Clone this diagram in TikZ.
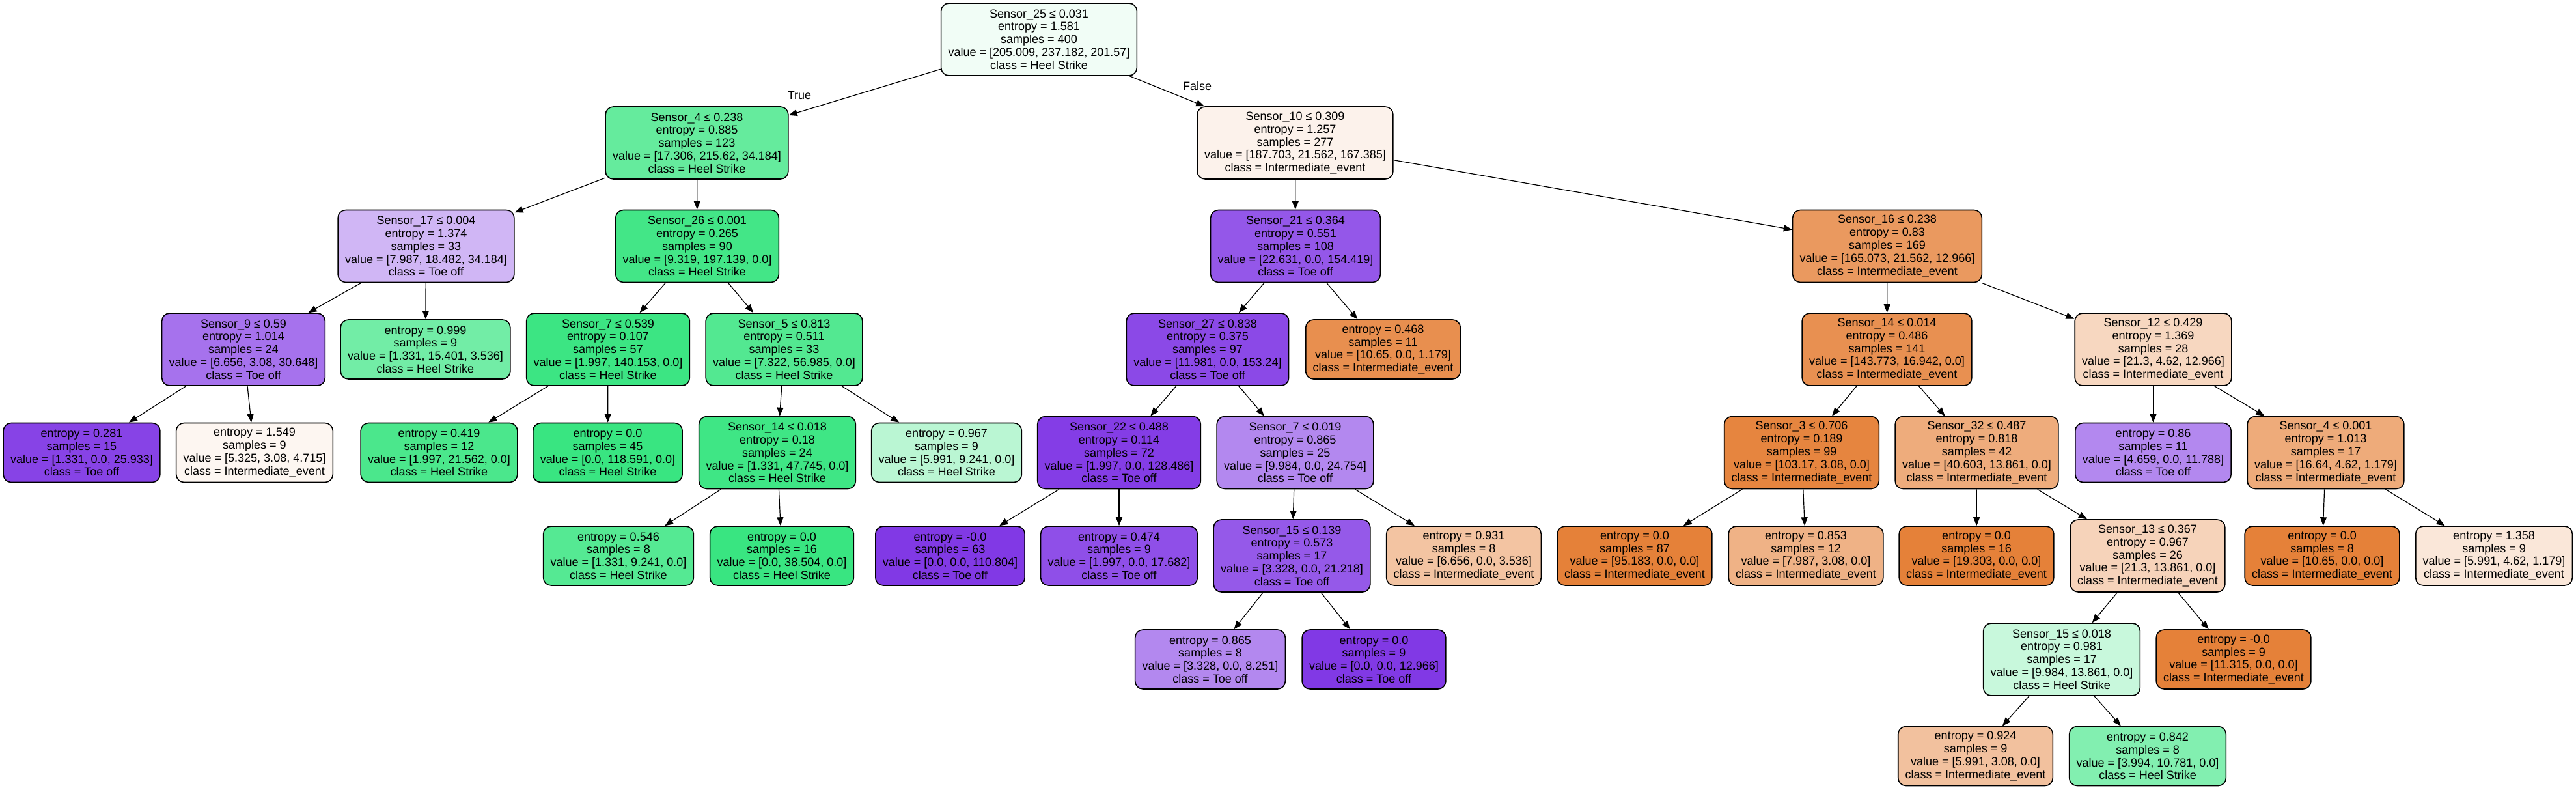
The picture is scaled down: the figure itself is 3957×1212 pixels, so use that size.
\documentclass[tikz,border=0pt]{standalone}
\usepackage{fontspec}
\setmainfont{Liberation Sans}
\usetikzlibrary{arrows.meta}
\definecolor{cIE}{RGB}{229,129,57}
\definecolor{cHS}{RGB}{57,229,129}
\definecolor{cTO}{RGB}{129,57,229}
\tikzset{
  tn/.style={draw=black, line width=0.8pt, rounded corners=6pt, align=center,
    font=\fontsize{9}{9.9}\selectfont, inner xsep=5.5pt, inner ysep=0pt},
  dn/.style={tn, minimum height=55.5pt},
  lf/.style={tn, minimum height=45.5pt},
  conn/.style={-{Triangle[length=6.5pt,width=5pt]}, line width=0.6pt},
  lbl/.style={font=\fontsize{9}{9.9}\selectfont, inner sep=0pt},
}
\begin{document}
\begin{tikzpicture}[x=0.5pt,y=-0.5pt]
\useasboundingbox[fill=white] (0,0) rectangle (3957,1212);
% level 0
\node[dn, fill=cHS!7!white] (root) at (1596,60.5) {Sensor\_25 ≤ 0.031\\entropy = 1.581\\samples = 400\\value = [205.009, 237.182, 201.57]\\class = Heel Strike};
% level 1
\node[dn, fill=cHS!78!white] (s4a) at (1070.5,219.5) {Sensor\_4 ≤ 0.238\\entropy = 0.885\\samples = 123\\value = [17.306, 215.62, 34.184]\\class = Heel Strike};
\node[dn, fill=cIE!10!white] (s10) at (1989.5,219.5) {Sensor\_10 ≤ 0.309\\entropy = 1.257\\samples = 277\\value = [187.703, 21.562, 167.385]\\class = Intermediate\_event};
% level 2
\node[dn, fill=cTO!37!white] (s17) at (654.5,378) {Sensor\_17 ≤ 0.004\\entropy = 1.374\\samples = 33\\value = [7.987, 18.482, 34.184]\\class = Toe off};
\node[dn, fill=cHS!95!white] (s26) at (1071,378) {Sensor\_26 ≤ 0.001\\entropy = 0.265\\samples = 90\\value = [9.319, 197.139, 0.0]\\class = Heel Strike};
\node[dn, fill=cTO!85!white] (s21) at (1990,378) {Sensor\_21 ≤ 0.364\\entropy = 0.551\\samples = 108\\value = [22.631, 0.0, 154.419]\\class = Toe off};
\node[dn, fill=cIE!81!white] (s16) at (2899,378) {Sensor\_16 ≤ 0.238\\entropy = 0.83\\samples = 169\\value = [165.073, 21.562, 12.966]\\class = Intermediate\_event};
% level 3
\node[dn, fill=cTO!71!white] (s9) at (374,536.5) {Sensor\_9 ≤ 0.59\\entropy = 1.014\\samples = 24\\value = [6.656, 3.08, 30.648]\\class = Toe off};
\node[lf, fill=cHS!71!white] (l0999) at (653.5,536.5) {entropy = 0.999\\samples = 9\\value = [1.331, 15.401, 3.536]\\class = Heel Strike};
\node[dn, fill=cHS!98.6!white] (s7a) at (934,536.5) {Sensor\_7 ≤ 0.539\\entropy = 0.107\\samples = 57\\value = [1.997, 140.153, 0.0]\\class = Heel Strike};
\node[dn, fill=cHS!87!white] (s5) at (1204.5,536.5) {Sensor\_5 ≤ 0.813\\entropy = 0.511\\samples = 33\\value = [7.322, 56.985, 0.0]\\class = Heel Strike};
\node[dn, fill=cTO!92!white] (s27) at (1855,536.5) {Sensor\_27 ≤ 0.838\\entropy = 0.375\\samples = 97\\value = [11.981, 0.0, 153.24]\\class = Toe off};
\node[lf, fill=cIE!89!white] (l0468) at (2124.5,536.5) {entropy = 0.468\\samples = 11\\value = [10.65, 0.0, 1.179]\\class = Intermediate\_event};
\node[dn, fill=cIE!88!white] (s14a) at (2898.5,536.5) {Sensor\_14 ≤ 0.014\\entropy = 0.486\\samples = 141\\value = [143.773, 16.942, 0.0]\\class = Intermediate\_event};
\node[dn, fill=cIE!32!white] (s12) at (3307.5,536.5) {Sensor\_12 ≤ 0.429\\entropy = 1.369\\samples = 28\\value = [21.3, 4.62, 12.966]\\class = Intermediate\_event};
% level 4
\node[lf, fill=cTO!95!white] (l0281) at (125.5,695) {entropy = 0.281\\samples = 15\\value = [1.331, 0.0, 25.933]\\class = Toe off};
\node[lf, fill=cIE!7!white] (l1549) at (391,695) {entropy = 1.549\\samples = 9\\value = [5.325, 3.08, 4.715]\\class = Intermediate\_event};
\node[lf, fill=cHS!91!white] (l0419) at (674.5,695) {entropy = 0.419\\samples = 12\\value = [1.997, 21.562, 0.0]\\class = Heel Strike};
\node[lf, fill=cHS] (l00a) at (933.5,695) {entropy = 0.0\\samples = 45\\value = [0.0, 118.591, 0.0]\\class = Heel Strike};
\node[dn, fill=cHS!97!white] (s14b) at (1194,695) {Sensor\_14 ≤ 0.018\\entropy = 0.18\\samples = 24\\value = [1.331, 47.745, 0.0]\\class = Heel Strike};
\node[lf, fill=cHS!35!white] (l0967) at (1454,695) {entropy = 0.967\\samples = 9\\value = [5.991, 9.241, 0.0]\\class = Heel Strike};
\node[dn, fill=cTO!98!white] (s22) at (1719,695) {Sensor\_22 ≤ 0.488\\entropy = 0.114\\samples = 72\\value = [1.997, 0.0, 128.486]\\class = Toe off};
\node[dn, fill=cTO!60!white] (s7b) at (1989.5,695) {Sensor\_7 ≤ 0.019\\entropy = 0.865\\samples = 25\\value = [9.984, 0.0, 24.754]\\class = Toe off};
\node[dn, fill=cIE!97!white] (s3) at (2767.5,695) {Sensor\_3 ≤ 0.706\\entropy = 0.189\\samples = 99\\value = [103.17, 3.08, 0.0]\\class = Intermediate\_event};
\node[dn, fill=cIE!66!white] (s32) at (3036.5,695) {Sensor\_32 ≤ 0.487\\entropy = 0.818\\samples = 42\\value = [40.603, 13.861, 0.0]\\class = Intermediate\_event};
\node[lf, fill=cTO!60!white] (l086) at (3307.5,695) {entropy = 0.86\\samples = 11\\value = [4.659, 0.0, 11.788]\\class = Toe off};
\node[dn, fill=cIE!67!white] (s4b) at (3572.5,695) {Sensor\_4 ≤ 0.001\\entropy = 1.013\\samples = 17\\value = [16.64, 4.62, 1.179]\\class = Intermediate\_event};
% level 5
\node[lf, fill=cHS!86!white] (l0546) at (950,853.5) {entropy = 0.546\\samples = 8\\value = [1.331, 9.241, 0.0]\\class = Heel Strike};
\node[lf, fill=cHS] (l00b) at (1201,853.5) {entropy = 0.0\\samples = 16\\value = [0.0, 38.504, 0.0]\\class = Heel Strike};
\node[lf, fill=cTO] (lm00a) at (1459.5,853.5) {entropy = -0.0\\samples = 63\\value = [0.0, 0.0, 110.804]\\class = Toe off};
\node[lf, fill=cTO!89!white] (l0474) at (1719,853.5) {entropy = 0.474\\samples = 9\\value = [1.997, 0.0, 17.682]\\class = Toe off};
\node[dn, fill=cTO!84!white] (s15a) at (1984.5,853.5) {Sensor\_15 ≤ 0.139\\entropy = 0.573\\samples = 17\\value = [3.328, 0.0, 21.218]\\class = Toe off};
\node[lf, fill=cIE!47!white] (l0931) at (2248.5,853.5) {entropy = 0.931\\samples = 8\\value = [6.656, 0.0, 3.536]\\class = Intermediate\_event};
\node[lf, fill=cIE] (l00c) at (2511,853.5) {entropy = 0.0\\samples = 87\\value = [95.183, 0.0, 0.0]\\class = Intermediate\_event};
\node[lf, fill=cIE!61!white] (l0853) at (2774,853.5) {entropy = 0.853\\samples = 12\\value = [7.987, 3.08, 0.0]\\class = Intermediate\_event};
\node[lf, fill=cIE] (l00d) at (3036,853.5) {entropy = 0.0\\samples = 16\\value = [19.303, 0.0, 0.0]\\class = Intermediate\_event};
\node[dn, fill=cIE!35!white] (s13) at (3299,853.5) {Sensor\_13 ≤ 0.367\\entropy = 0.967\\samples = 26\\value = [21.3, 13.861, 0.0]\\class = Intermediate\_event};
\node[lf, fill=cIE] (l00e) at (3567,853.5) {entropy = 0.0\\samples = 8\\value = [10.65, 0.0, 0.0]\\class = Intermediate\_event};
\node[lf, fill=cIE!19!white] (l1358) at (3831,853.5) {entropy = 1.358\\samples = 9\\value = [5.991, 4.62, 1.179]\\class = Intermediate\_event};
% level 6
\node[lf, fill=cTO!60!white] (l0865) at (1859,1012.5) {entropy = 0.865\\samples = 8\\value = [3.328, 0.0, 8.251]\\class = Toe off};
\node[lf, fill=cTO] (l00f) at (2110.5,1012.5) {entropy = 0.0\\samples = 9\\value = [0.0, 0.0, 12.966]\\class = Toe off};
\node[dn, fill=cHS!28!white] (s15b) at (3167,1012.5) {Sensor\_15 ≤ 0.018\\entropy = 0.981\\samples = 17\\value = [9.984, 13.861, 0.0]\\class = Heel Strike};
\node[lf, fill=cIE] (lm00b) at (3431,1012.5) {entropy = -0.0\\samples = 9\\value = [11.315, 0.0, 0.0]\\class = Intermediate\_event};
% level 7
\node[lf, fill=cIE!49!white] (l0924) at (3034.5,1161) {entropy = 0.924\\samples = 9\\value = [5.991, 3.08, 0.0]\\class = Intermediate\_event};
\node[lf, fill=cHS!63!white] (l0842) at (3299,1161) {entropy = 0.842\\samples = 8\\value = [3.994, 10.781, 0.0]\\class = Heel Strike};
% edge labels
\node[lbl] (ltrue) at (1228,146) {True};
\node[lbl] (lfalse) at (1839,132) {False};
% edges
\foreach \a/\b in {root/s4a, root/s10, s4a/s17, s4a/s26, s10/s21, s10/s16,
  s17/s9, s17/l0999, s26/s7a, s26/s5, s21/s27, s21/l0468, s16/s14a, s16/s12,
  s9/l0281, s9/l1549, s7a/l0419, s7a/l00a, s5/s14b, s5/l0967, s27/s22, s27/s7b,
  s14a/s3, s14a/s32, s12/l086, s12/s4b, s14b/l0546, s14b/l00b, s22/lm00a, s22/l0474,
  s7b/s15a, s7b/l0931, s3/l00c, s3/l0853, s32/l00d, s32/s13, s4b/l00e, s4b/l1358,
  s15a/l0865, s15a/l00f, s13/s15b, s13/lm00b, s15b/l0924, s15b/l0842}
  \draw[conn] (\a) -- (\b);
\end{tikzpicture}
\end{document}
